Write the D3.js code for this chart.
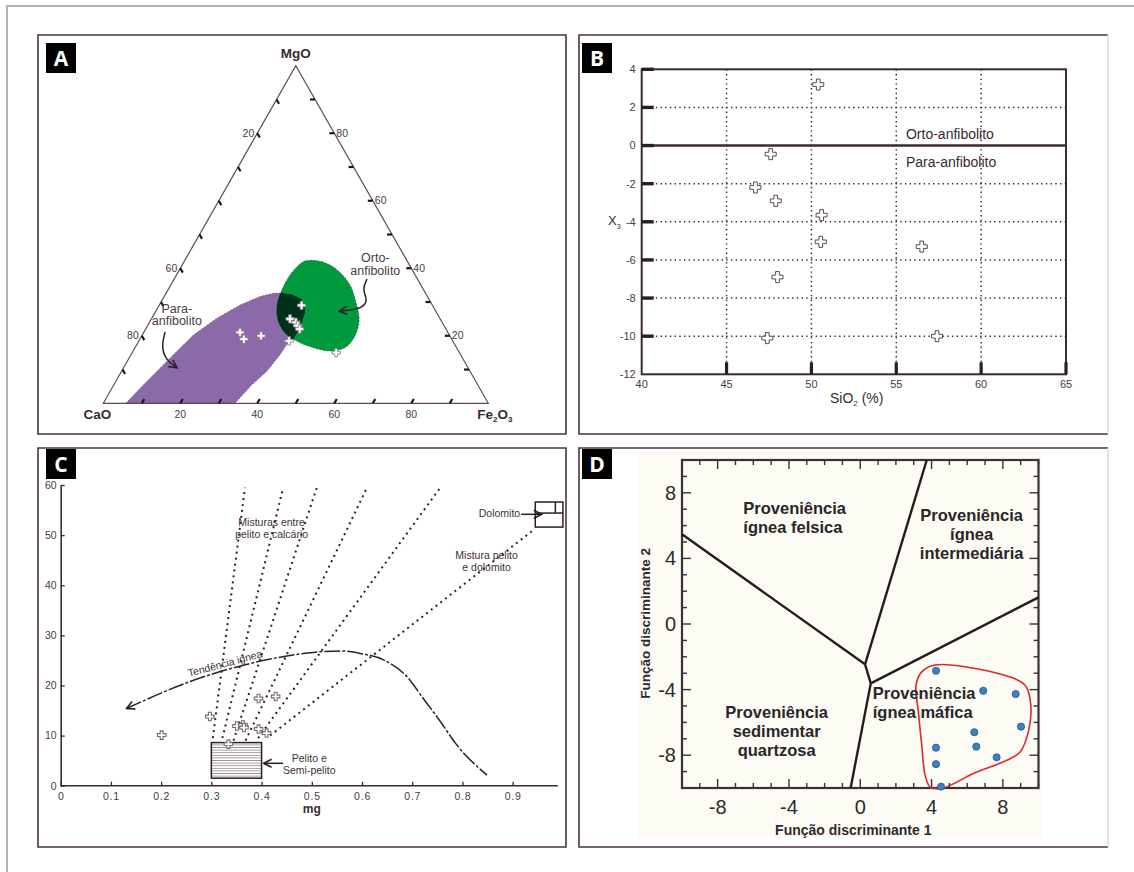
<!DOCTYPE html>
<html>
<head>
<meta charset="utf-8">
<title>Anfibolitos</title>
<script src="https://cdn.jsdelivr.net/npm/d3@7"></script>
<style>
  body { margin: 0; background: #fff; }
  svg text { font-family: "Liberation Sans", Arial, sans-serif; }
</style>
</head>
<body>
<div id="chart-section"></div>
<script>
// ---------- A : ternary CaO - MgO - Fe2O3 (%) ----------
var ternCaO   = [34, 39, 38, 38, 38, 42.5, 54, 54, 49, 32]
var ternMgO   = [29, 25, 24, 23, 22, 18.5, 21, 19, 20, 15]
var ternFe2O3 = [37, 36, 38, 39, 40, 39, 25, 27, 31, 53]
var ternTicks = [10, 20, 30, 40, 50, 60, 70, 80, 90]
var ternLabelsCaO = [20, 60, 80]
var ternLabelsMgO = [20, 40, 60, 80]
var ternLabelsFe  = [20, 40, 60, 80]
// fields as [Fe2O3, MgO]
var paraField = [[5.9,0],[7.3,4.4],[9.2,9.4],[11.0,14.3],[13.3,20.2],[16.9,25.2],[21.0,29.1],[24.9,31.6],
  [27.9,32.6],[30.1,32.7],[32.9,32.2],[35.9,31.0],[37.8,29.1],[39.0,26.7],[39.9,22.3],[39.9,19.3],
  [39.0,18.2],[38.7,14.3],[37.7,9.4],[35.8,5.4],[34.2,0]]
var ortoField = [[31.5,42.2],[35.9,41.9],[41.0,39.5],[46.6,35.0],[50.6,30.0],[54.1,24.7],[55.4,19.9],
  [54.7,16.7],[51.4,15.5],[46.5,16.4],[41.5,18.2],[37.2,20.5],[33.0,24.7],[30.6,29.1],[29.6,33.6],
  [29.5,38.0],[30.2,40.7]]
var ortoArrow = [[50.1,36.8],[50.4,33.6],[53.5,30.6],[53.1,28.2],[50.3,27.6],[47.6,27.3]]
var paraArrow = [[5.5,21.1],[6.6,17.0],[9.6,13.0],[13.9,10.5]]

// ---------- B : SiO2 vs X3 ----------
var bSiO2 = [50.4, 47.6, 46.7, 47.9, 50.6, 50.55, 56.5, 48.0, 47.4, 57.4]
var bX3   = [3.2, -0.45, -2.2, -2.9, -3.65, -5.05, -5.3, -6.9, -10.1, -10.0]
var bXTicks = [40, 45, 50, 55, 60, 65]
var bYTicks = [4, 2, 0, -2, -4, -6, -8, -10, -12]
var bGridX = [45, 50, 55, 60]
var bGridY = [2, -2, -4, -6, -8, -10]

// ---------- C : mg vs c ----------
var cMg = [0.201, 0.297, 0.334, 0.351, 0.363, 0.365, 0.394, 0.394, 0.410, 0.428]
var cVal = [10.1, 13.8, 8.3, 11.9, 12.1, 11.6, 17.4, 11.3, 10.5, 17.8]
var cXTicks = [0, 0.1, 0.2, 0.3, 0.4, 0.5, 0.6, 0.7, 0.8, 0.9]
var cYTicks = [0, 10, 20, 30, 40, 50, 60]
var cMixFrom = [[0.303,9.5],[0.322,9.5],[0.344,9],[0.368,9],[0.393,9.5],[0.417,10]]
var cMixTo   = [[0.367,59.5],[0.443,59.5],[0.510,59.5],[0.610,59.5],[0.756,59.5],[0.941,51]]
var cIgneous = [[0.131,15.4],[0.258,20.8],[0.424,25.4],[0.503,26.6],[0.556,26.9],[0.596,26.4],
  [0.643,25.1],[0.689,21.8],[0.722,17.4],[0.756,12.8],[0.789,8.1],[0.849,2.1]]
var cPelito = [0.30, 0.40, 1.5, 8.6]      // mg0, mg1, c0, c1
var cDolomito = [0.945, 1.0, 51.6, 56.6, 54.4, 0.985]

// ---------- D : discriminant functions ----------
var dF1 = [4.25, 6.90, 8.72, 9.02, 6.40, 6.51, 7.65, 4.25, 4.25, 4.53]
var dF2 = [-2.85, -4.07, -4.27, -6.26, -6.60, -7.48, -8.13, -7.54, -8.55, -9.92]
var dTicks = [-8, -4, 0, 4, 8]
var dLines = [
  [[-10, 5.47], [0.27, -2.46]],
  [[0.27, -2.46], [3.73, 10]],
  [[0.27, -2.46], [0.59, -3.62]],
  [[0.59, -3.62], [10, 1.62]],
  [[0.59, -3.62], [-0.54, -10]]
]
var dMafic = [[4.2,-2.5],[8.0,-3.1],[9.25,-3.74],[9.57,-4.96],[9.43,-6.58],[8.97,-7.8],[8.22,-8.31],
  [6.35,-9.12],[4.57,-10.03],[3.92,-9.94],[3.64,-9.22],[3.45,-7.39],[3.26,-5.36],[3.13,-3.73],[3.45,-2.92]]

var ink = "#3b2a34"

var svg = d3.select("#chart-section")
  .append("svg")
  .attr("width", 1134)
  .attr("height", 872)
  .style("display", "block")

svg.append("rect").attr("width", 1134).attr("height", 872).attr("fill", "#fff")
svg.append("path").attr("d", "M7,872V6H1134").attr("fill", "none").attr("stroke", "#b3b3b3").attr("stroke-width", 2)

var defs = svg.append("defs")
defs.append("marker")
  .attr("id", "arrow").attr("viewBox", "0 0 10 10")
  .attr("refX", 9).attr("refY", 5)
  .attr("markerWidth", 10).attr("markerHeight", 10)
  .attr("markerUnits", "userSpaceOnUse")
  .attr("orient", "auto-start-reverse")
  .append("path").attr("d", "M1,1L9,5L1,9")
  .attr("fill", "none").attr("stroke", "#2a1f26").attr("stroke-width", 1.6)

var hatch = defs.append("pattern").attr("id", "hatch")
  .attr("patternUnits", "userSpaceOnUse").attr("width", 8).attr("height", 2.6)
hatch.append("rect").attr("width", 8).attr("height", 2.6).attr("fill", "#fff")
hatch.append("line").attr("x1", 0).attr("x2", 8).attr("y1", 1.3).attr("y2", 1.3)
  .attr("stroke", "#8a7a84").attr("stroke-width", 0.8)

// panel frames
var panels = [
  {id: "A", x: 38, y: 35, w: 528, h: 399, bx: 46, by: 43, light: false},
  {id: "B", x: 579, y: 35, w: 529, h: 399, bx: 582, by: 43, light: true},
  {id: "C", x: 38, y: 448, w: 528, h: 399, bx: 46, by: 449, light: false},
  {id: "D", x: 579, y: 448, w: 529, h: 399, bx: 582, by: 449, light: true}
]
panels.forEach(function(p) {
  defs.append("clipPath").attr("id", "clip" + p.id)
    .append("rect").attr("x", p.x + 1).attr("y", p.y + 1).attr("width", p.w - 2).attr("height", p.h - 2)
})

// D cream plot background
svg.append("rect").attr("x", 638).attr("y", 452).attr("width", 404).attr("height", 386).attr("fill", "#fcfbf4")

// ================= A =================
var tx = d3.scaleLinear().domain([0, 100]).range([103.3, 488.3])
var ty = d3.scaleLinear().domain([0, 100]).range([403.3, 65.7])
function tern(fe, mg) { return [tx(fe + mg / 2), ty(mg)] }
var gA = svg.append("g")
var vCa = tern(0, 0), vFe = tern(100, 0), vMg = tern(0, 100)

var ternLine = d3.line().x(function(d) { return tern(d[0], d[1])[0] }).y(function(d) { return tern(d[0], d[1])[1] })

gA.append("path").attr("d", ternLine.curve(d3.curveLinearClosed)(paraField))
  .attr("fill", "#8c69a9").attr("stroke", "#5b3f75").attr("stroke-width", 0.6).attr("stroke-dasharray", "2,1.5")
defs.append("clipPath").attr("id", "ortoClip")
  .append("path").attr("d", ternLine.curve(d3.curveCatmullRomClosed)(ortoField))
gA.append("path").attr("d", ternLine.curve(d3.curveCatmullRomClosed)(ortoField))
  .attr("fill", "#00993d").attr("stroke", "#1f4a2a").attr("stroke-width", 0.6).attr("stroke-dasharray", "2,1.5")
gA.append("path").attr("d", ternLine.curve(d3.curveLinearClosed)(paraField))
  .attr("clip-path", "url(#ortoClip)").attr("fill", "#00301a")

gA.append("path").attr("d", "M" + vCa + "L" + vFe + "L" + vMg + "Z")
  .attr("fill", "none").attr("stroke", "#5e4a56").attr("stroke-width", 1.2)

function unit(p, q, len) {
  var dx = q[0] - p[0], dy = q[1] - p[1], l = Math.sqrt(dx * dx + dy * dy)
  return [dx / l * len, dy / l * len]
}
var dirLeft = unit(vMg, vFe, 5), dirRight = [-5, 0], dirBottom = unit(vCa, vMg, 5)
ternTicks.forEach(function(t) {
  var pl = tern(0, 100 - t), pr = tern(100 - t, t), pb = tern(t, 0)
  ;[[pl, dirLeft], [pr, dirRight], [pb, dirBottom]].forEach(function(s) {
    gA.append("line").attr("x1", s[0][0]).attr("y1", s[0][1])
      .attr("x2", s[0][0] + s[1][0]).attr("y2", s[0][1] + s[1][1])
      .attr("stroke", "#1e1418").attr("stroke-width", 2.2)
  })
})
ternLabelsCaO.forEach(function(t) {
  var p = tern(0, 100 - t)
  gA.append("text").attr("x", p[0] - 3).attr("y", p[1]).attr("dy", "0.35em")
    .attr("text-anchor", "end").attr("font-size", 10.5).attr("fill", "#4a3a44").text(t)
})
ternLabelsMgO.forEach(function(t) {
  var p = tern(100 - t, t)
  gA.append("text").attr("x", p[0] + 2).attr("y", p[1]).attr("dy", "0.35em")
    .attr("font-size", 10.5).attr("fill", "#4a3a44").text(t)
})
ternLabelsFe.forEach(function(t) {
  var p = tern(t, 0)
  gA.append("text").attr("x", p[0]).attr("y", p[1] + 11).attr("dy", "0.35em")
    .attr("text-anchor", "middle").attr("font-size", 10.5).attr("fill", "#4a3a44").text(t)
})
gA.append("text").attr("x", vMg[0]).attr("y", vMg[1] - 8).attr("text-anchor", "middle")
  .attr("font-size", 13.5).attr("font-weight", "bold").attr("fill", "#3a2a34").text("MgO")
gA.append("text").attr("x", vCa[0] - 6).attr("y", vCa[1] + 16).attr("text-anchor", "middle")
  .attr("font-size", 13.5).attr("font-weight", "bold").attr("fill", "#3a2a34").text("CaO")
var feLab = gA.append("text").attr("x", vFe[0] - 11).attr("y", vFe[1] + 16)
  .attr("font-size", 13.5).attr("font-weight", "bold").attr("fill", "#3a2a34")
feLab.append("tspan").text("Fe")
feLab.append("tspan").attr("font-size", 8).attr("dy", 3).text("2")
feLab.append("tspan").attr("dy", -3).text("O")
feLab.append("tspan").attr("font-size", 8).attr("dy", 3).text("3")

// points
var crossA = d3.symbol().type(d3.symbolCross).size(38)
gA.selectAll(".ptA").data(ternMgO).enter().append("path")
  .attr("d", crossA)
  .attr("transform", function(d, i) {
    var s = ternCaO[i] + ternMgO[i] + ternFe2O3[i]
    var p = tern(ternFe2O3[i] / s * 100, ternMgO[i] / s * 100)
    return "translate(" + p + ")"
  })
  .attr("fill", "#fff").attr("stroke", "#8a8088").attr("stroke-width", 0.9)

// annotations
var annoLine = d3.line().curve(d3.curveBasis)
  .x(function(d) { return tern(d[0], d[1])[0] }).y(function(d) { return tern(d[0], d[1])[1] })
gA.append("path").attr("d", annoLine(ortoArrow)).attr("fill", "none")
  .attr("stroke", "#2a1f26").attr("stroke-width", 1.5).attr("marker-end", "url(#arrow)")
gA.append("path").attr("d", annoLine(paraArrow)).attr("fill", "none")
  .attr("stroke", "#2a1f26").attr("stroke-width", 1.5).attr("marker-end", "url(#arrow)")
var ortoP = tern(50, 41.3), paraP = tern(6.0, 26.2)
;["Orto-", "anfibolito"].forEach(function(s, i) {
  gA.append("text").attr("x", ortoP[0]).attr("y", ortoP[1] - 6 + i * 12.5).attr("dy", "0.35em")
    .attr("text-anchor", "middle").attr("font-size", 12.5).attr("fill", "#4a3a44").text(s)
})
;["Para-", "anfibolito"].forEach(function(s, i) {
  gA.append("text").attr("x", paraP[0]).attr("y", paraP[1] - 6.5 + i * 12.5).attr("dy", "0.35em")
    .attr("text-anchor", "middle").attr("font-size", 12.5).attr("fill", "#4a3a44").text(s)
})

// ================= B =================
var bx = d3.scaleLinear().domain([40, 65]).range([641.7, 1066])
var by = d3.scaleLinear().domain([-12, 4]).range([374.3, 69.3])
var gB = svg.append("g")

gB.selectAll(".gx").data(bGridX).enter().append("line")
  .attr("x1", d => bx(d)).attr("x2", d => bx(d)).attr("y1", by(4)).attr("y2", by(-12))
  .attr("stroke", "#3a2a32").attr("stroke-width", 1.5).attr("stroke-dasharray", "1.4,3.3")
gB.selectAll(".gy").data(bGridY).enter().append("line")
  .attr("y1", d => by(d)).attr("y2", d => by(d)).attr("x1", bx(40)).attr("x2", bx(65))
  .attr("stroke", "#3a2a32").attr("stroke-width", 1.5).attr("stroke-dasharray", "1.4,3.3")
gB.append("line").attr("x1", bx(40)).attr("x2", bx(65)).attr("y1", by(0)).attr("y2", by(0))
  .attr("stroke", ink).attr("stroke-width", 2.6)
gB.append("rect").attr("x", bx(40)).attr("y", by(4)).attr("width", bx(65) - bx(40)).attr("height", by(-12) - by(4))
  .attr("fill", "none").attr("stroke", ink).attr("stroke-width", 2)
gB.selectAll(".tx").data(bXTicks.slice(1)).enter().append("rect")
  .attr("x", d => bx(d) - 1.6).attr("y", by(-12) - 12).attr("width", 3.2).attr("height", 12).attr("fill", "#2a1f26")
gB.selectAll(".ty").data(bYTicks.slice(0, -1)).enter().append("rect")
  .attr("x", bx(40)).attr("y", d => by(d) - 1.7).attr("width", 12).attr("height", 3.4).attr("fill", "#2a1f26")
gB.selectAll(".lx").data(bXTicks).enter().append("text")
  .attr("x", d => bx(d)).attr("y", by(-12) + 10).attr("dy", "0.35em").attr("text-anchor", "middle")
  .attr("font-size", 11).attr("fill", "#4a3a44").text(d => d)
gB.selectAll(".ly").data(bYTicks).enter().append("text")
  .attr("x", bx(40) - 6).attr("y", d => by(d)).attr("dy", "0.35em").attr("text-anchor", "end")
  .attr("font-size", 11).attr("fill", "#4a3a44").text(d => d)
var sLab = gB.append("text").attr("x", 856.7).attr("y", 397.7).attr("dy", "0.35em").attr("text-anchor", "middle")
  .attr("font-size", 14).attr("fill", "#3a2a34")
sLab.append("tspan").text("SiO")
sLab.append("tspan").attr("font-size", 8).attr("dy", 3).text("2")
sLab.append("tspan").attr("dy", -3).text(" (%)")
var xLab = gB.append("text").attr("x", 608).attr("y", by(-4) - 1).attr("dy", "0.35em")
  .attr("font-size", 13).attr("fill", "#3a2a34")
xLab.append("tspan").text("X")
xLab.append("tspan").attr("font-size", 7).attr("dy", 4).text("3")
gB.append("text").attr("x", bx(55.57)).attr("y", by(0.59)).attr("dy", "0.35em")
  .attr("font-size", 14).attr("fill", "#3a2a34").text("Orto-anfibolito")
gB.append("text").attr("x", bx(55.57)).attr("y", by(-0.88)).attr("dy", "0.35em")
  .attr("font-size", 14).attr("fill", "#3a2a34").text("Para-anfibolito")

var crossB = d3.symbol().type(d3.symbolCross).size(68)
gB.selectAll(".ptB").data(bSiO2).enter().append("path")
  .attr("d", crossB)
  .attr("transform", (d, i) => "translate(" + bx(d) + "," + by(bX3[i]) + ")")
  .attr("fill", "#fff").attr("stroke", "#5a4a52").attr("stroke-width", 1)

// ================= C =================
var cx = d3.scaleLinear().domain([0, 1]).range([60.7, 562.9])
var cy = d3.scaleLinear().domain([0, 60]).range([785.7, 485])
var gC = svg.append("g").attr("clip-path", "url(#clipC)")

gC.append("rect").attr("x", cx(cPelito[0])).attr("y", cy(cPelito[3]))
  .attr("width", cx(cPelito[1]) - cx(cPelito[0])).attr("height", cy(cPelito[2]) - cy(cPelito[3]))
  .attr("fill", "url(#hatch)").attr("stroke", "#2a1f26").attr("stroke-width", 1.5)

gC.selectAll(".mix").data(cMixFrom).enter().append("line")
  .attr("x1", d => cx(d[0])).attr("y1", d => cy(d[1]))
  .attr("x2", (d, i) => cx(cMixTo[i][0])).attr("y2", (d, i) => cy(cMixTo[i][1]))
  .attr("stroke", "#2e2229").attr("stroke-width", 2).attr("stroke-dasharray", "2,4")

gC.append("path").attr("d", d3.line().curve(d3.curveMonotoneX).x(d => cx(d[0])).y(d => cy(d[1]))(cIgneous))
  .attr("fill", "none").attr("stroke", "#2e2229").attr("stroke-width", 1.5)
  .attr("stroke-dasharray", "16,2,3,2").attr("marker-start", "url(#arrow)")

gC.append("rect").attr("x", cx(cDolomito[0])).attr("y", cy(cDolomito[3]))
  .attr("width", cx(cDolomito[1]) - cx(cDolomito[0])).attr("height", cy(cDolomito[2]) - cy(cDolomito[3]))
  .attr("fill", "#fff").attr("stroke", "#2a1f26").attr("stroke-width", 1.5)
gC.append("line").attr("x1", cx(cDolomito[0])).attr("x2", cx(cDolomito[1]))
  .attr("y1", cy(cDolomito[4])).attr("y2", cy(cDolomito[4])).attr("stroke", "#2a1f26").attr("stroke-width", 1.5)
gC.append("line").attr("x1", cx(cDolomito[5])).attr("x2", cx(cDolomito[5]))
  .attr("y1", cy(cDolomito[3])).attr("y2", cy(cDolomito[4])).attr("stroke", "#2a1f26").attr("stroke-width", 1.5)

var axC = svg.append("g").attr("transform", "translate(0," + cy(0) + ")")
  .call(d3.axisBottom(cx).tickValues(cXTicks).tickSizeInner(-4).tickSizeOuter(0).tickPadding(7)
    .tickFormat(d => d === 0 ? "0" : d3.format(".1f")(d)))
axC.select(".domain").attr("d", "M" + cx(0) + ",0H" + cx(0.99)).attr("stroke", ink).attr("stroke-width", 1.6)
axC.selectAll("line").attr("stroke", ink).attr("stroke-width", 1.3)
axC.selectAll("text").attr("font-size", 10.5).attr("fill", "#4a3a44").attr("letter-spacing", 0.8)
  .style("font-family", "'Liberation Sans', Arial, sans-serif")
var ayC = svg.append("g").attr("transform", "translate(" + cx(0) + ",0)")
  .call(d3.axisLeft(cy).tickValues(cYTicks).tickSizeInner(-4).tickSizeOuter(0).tickPadding(4))
ayC.select(".domain").attr("stroke", ink).attr("stroke-width", 1.6)
ayC.selectAll("line").attr("stroke", ink).attr("stroke-width", 1.3)
ayC.selectAll("text").attr("font-size", 10.5).attr("fill", "#4a3a44")
  .style("font-family", "'Liberation Sans', Arial, sans-serif")
svg.append("text").attr("x", cx(0.5)).attr("y", 809).attr("dy", "0.35em").attr("text-anchor", "middle")
  .attr("font-size", 12).attr("font-weight", "bold").attr("fill", "#3a2a34").text("mg")

var crossC = d3.symbol().type(d3.symbolCross).size(40)
gC.selectAll(".ptC").data(cMg).enter().append("path")
  .attr("d", crossC)
  .attr("transform", (d, i) => "translate(" + cx(d) + "," + cy(cVal[i]) + ")")
  .attr("fill", "#fff").attr("stroke", "#7a6872").attr("stroke-width", 1.1)

function cText(lines, mg, c, anchor) {
  lines.forEach(function(s, i) {
    gC.append("text").attr("x", cx(mg)).attr("y", cy(c) + i * 12).attr("dy", "0.35em")
      .attr("text-anchor", anchor).attr("font-size", 10.5).attr("fill", "#3f2f39").text(s)
  })
}
cText(["Misturas entre", "pelito e calcário"], 0.420, 52.6, "middle")
cText(["Mistura pelito", "e dolomito"], 0.848, 45.9, "middle")
cText(["Pelito e", "Semi-pelito"], 0.495, 5.47, "middle")
cText(["Dolomito"], 0.915, 54.35, "end")
gC.append("text").attr("transform", "translate(" + cx(0.327) + "," + cy(24.4) + ") rotate(-15)")
  .attr("dy", "0.35em").attr("text-anchor", "middle").attr("font-size", 10.5).attr("fill", "#3f2f39")
  .text("Tendência ignea")
gC.append("line").attr("x1", cx(0.443)).attr("y1", cy(4.47)).attr("x2", cx(0.404)).attr("y2", cy(4.47))
  .attr("stroke", "#2a1f26").attr("stroke-width", 1.5).attr("marker-end", "url(#arrow)")
gC.append("line").attr("x1", cx(0.917)).attr("y1", cy(54.15)).attr("x2", cx(0.958)).attr("y2", cy(54.15))
  .attr("stroke", "#2a1f26").attr("stroke-width", 1.5).attr("marker-end", "url(#arrow)")

// ================= D =================
var dx = d3.scaleLinear().domain([-10, 10]).range([682, 1038.5])
var dy = d3.scaleLinear().domain([-10, 10]).range([788, 460])
var gD = svg.append("g")
var dAll = d3.range(-10, 11)

// inner ticks on all sides
gD.selectAll(".tb").data(dAll).enter().append("line")
  .attr("x1", d => dx(d)).attr("x2", d => dx(d)).attr("y1", dy(-10)).attr("y2", d => dy(-10) - (d % 4 === 0 ? 9 : 5))
  .attr("stroke", "#3a3035").attr("stroke-width", 1.4)
gD.selectAll(".tt").data(dAll).enter().append("line")
  .attr("x1", d => dx(d)).attr("x2", d => dx(d)).attr("y1", dy(10)).attr("y2", d => dy(10) + (d % 4 === 0 ? 9 : 5))
  .attr("stroke", "#3a3035").attr("stroke-width", 1.4)
gD.selectAll(".tl").data(dAll).enter().append("line")
  .attr("y1", d => dy(d)).attr("y2", d => dy(d)).attr("x1", dx(-10)).attr("x2", d => dx(-10) + (d % 4 === 0 ? 9 : 5))
  .attr("stroke", "#3a3035").attr("stroke-width", 1.4)
gD.selectAll(".tr").data(dAll).enter().append("line")
  .attr("y1", d => dy(d)).attr("y2", d => dy(d)).attr("x1", dx(10)).attr("x2", d => dx(10) - (d % 4 === 0 ? 9 : 5))
  .attr("stroke", "#3a3035").attr("stroke-width", 1.4)
gD.append("rect").attr("x", dx(-10)).attr("y", dy(10)).attr("width", dx(10) - dx(-10)).attr("height", dy(-10) - dy(10))
  .attr("fill", "none").attr("stroke", "#3a3035").attr("stroke-width", 2.2)

gD.selectAll(".bnd").data(dLines).enter().append("line")
  .attr("x1", d => dx(d[0][0])).attr("y1", d => dy(d[0][1]))
  .attr("x2", d => dx(d[1][0])).attr("y2", d => dy(d[1][1]))
  .attr("stroke", "#231c20").attr("stroke-width", 2.4)

gD.append("path").attr("d", d3.line().curve(d3.curveCatmullRomClosed.alpha(0.5)).x(d => dx(d[0])).y(d => dy(d[1]))(dMafic))
  .attr("fill", "none").attr("stroke", "#e3262b").attr("stroke-width", 1.6)

gD.selectAll(".ptD").data(dF1).enter().append("circle")
  .attr("cx", d => dx(d)).attr("cy", (d, i) => dy(dF2[i])).attr("r", 3.6)
  .attr("fill", "#3f80c2").attr("stroke", "#2b5580").attr("stroke-width", 0.8)

gD.selectAll(".lxD").data(dTicks).enter().append("text")
  .attr("x", d => dx(d)).attr("y", 806.7).attr("dy", "0.35em").attr("text-anchor", "middle")
  .attr("font-size", 20).attr("fill", "#2e2a2c").text(d => d)
gD.selectAll(".lyD").data(dTicks).enter().append("text")
  .attr("x", 676).attr("y", d => dy(d)).attr("dy", "0.35em").attr("text-anchor", "end")
  .attr("font-size", 20).attr("fill", "#2e2a2c").text(d => d)
gD.append("text").attr("x", 853.3).attr("y", 830).attr("dy", "0.35em").attr("text-anchor", "middle")
  .attr("font-size", 14).attr("font-weight", "bold").attr("fill", "#2e2a2c").text("Função discriminante 1")
gD.append("text").attr("transform", "translate(645,623.3) rotate(-90)").attr("dy", "0.35em")
  .attr("text-anchor", "middle").attr("font-size", 13.5).attr("font-weight", "bold").attr("fill", "#2e2a2c")
  .text("Função discriminante 2")

function dText(lines, x, y, anchor) {
  lines.forEach(function(s, i) {
    gD.append("text").attr("x", dx(x)).attr("y", dy(y) + i * 19).attr("dy", "0.35em")
      .attr("text-anchor", anchor).attr("font-size", 16.5).attr("font-weight", "bold")
      .attr("fill", "#2a2528").text(s)
  })
}
dText(["Proveniência", "ígnea felsica"], -6.56, 7.05, "start")
dText(["Proveniência", "ígnea", "intermediária"], 6.25, 6.65, "middle")
dText(["Proveniência", "ígnea máfica"], 0.70, -4.23, "start")
dText(["Proveniência", "sedimentar", "quartzosa"], -4.69, -5.35, "middle")

// frames and panel letters on top
panels.forEach(function(p) {
  var dark = p.light ? "M" + (p.x + p.w) + "," + p.y + "H" + p.x + "V" + (p.y + p.h) + "H" + (p.x + p.w)
                     : "M" + p.x + "," + p.y + "h" + p.w + "v" + p.h + "h" + (-p.w) + "Z"
  svg.append("path").attr("d", dark).attr("fill", "none").attr("stroke", "#4b3444").attr("stroke-width", 1.6)
  if (p.light) {
    svg.append("line").attr("x1", p.x + p.w).attr("x2", p.x + p.w).attr("y1", p.y).attr("y2", p.y + p.h)
      .attr("stroke", "#dcdcdc").attr("stroke-width", 1.6)
  }
  svg.append("rect").attr("x", p.bx).attr("y", p.by).attr("width", 30).attr("height", 30).attr("fill", "#000")
  svg.append("text").attr("x", p.bx + 15).attr("y", p.by + 15).attr("dy", "0.36em").attr("text-anchor", "middle")
    .attr("font-size", 21).attr("font-weight", "bold").attr("fill", "#fff")
    .style("font-family", "'Open Sans', sans-serif").text(p.id)
})
</script>
</body>
</html>
